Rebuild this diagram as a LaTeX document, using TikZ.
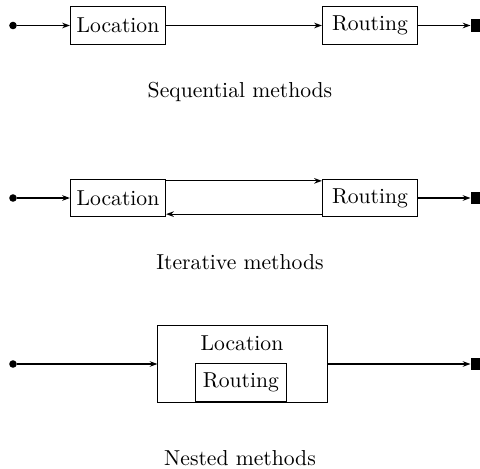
\documentclass[tikz,border=0pt]{standalone}
\usepackage{tikz}
\usetikzlibrary{positioning,calc,arrows.meta}
\tikzset{x=0.4625pt, y=-0.4625pt, >={Stealth[length=3.6pt,width=2.6pt]},
  box/.style={draw, inner sep=0pt, minimum width=44pt, minimum height=17.2pt},
  start/.style={circle, fill, inner sep=0pt, minimum size=3.5pt},
  stop/.style={fill, inner sep=0pt, minimum width=4.6pt, minimum height=6pt}}

\begin{document}
\begin{tikzpicture}[line width=0.5pt]
  \useasboundingbox (0,0) rectangle (480,469);

  % sequential
  \node (s1) [start] at (13,25.5) {};
  \node (loc1) [box] at (118,25.5) {Location};
  \node (rout1) [box] at (370,25.5) {Routing};
  \node (e1) [stop] at (476,25.5) {};
  \draw[->] (s1) -- (loc1);
  \draw[->] (loc1) -- (rout1);
  \draw[->] (rout1) -- (e1);
  \node (seq) at (240,92) {Sequential methods};

  % iterative
  \node (s2) [start] at (13,198) {};
  \node (loc2) [box] at (118,198) {Location};
  \node (rout2) [box] at (370,198) {Routing};
  \node (e2) [stop] at (476,198) {};
  \draw[->] (s2) -- (loc2);
  \draw[->] ($(loc2.north east)+(0,2)$) -- ($(loc2.north east -| rout2.west)+(0,2)$);
  \draw[->] ($(loc2.south east -| rout2.west)+(0,-3)$) -- ($(loc2.south east)+(0,-3)$);
  \draw[->] (rout2) -- (e2);
  \node (iter) at (240,262) {Iterative methods};

  % nested
  \node (s3) [start] at (13,364) {};
  \node (nest) [draw, minimum width=78.2pt, minimum height=35.2pt] at (242.5,364) {};
  \node (loc3) at (242,343) {Location};
  \node (rout3) [box, minimum width=42.5pt, minimum height=18pt] at (241,382.5) {Routing};
  \node (e3) [stop] at (476,364) {};
  \draw[->] (s3) -- (nest);
  \draw[->] (nest) -- (e3);
  \node (nst) at (240,458) {Nested methods};
\end{tikzpicture}
\end{document}
